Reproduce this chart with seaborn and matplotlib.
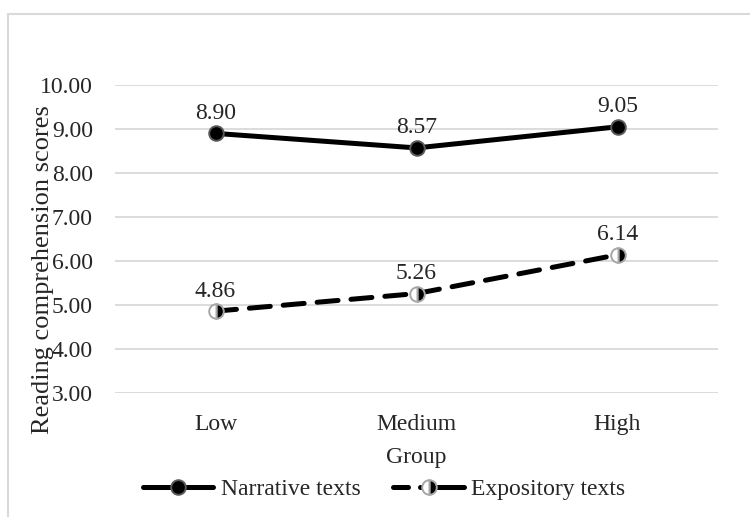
import matplotlib
matplotlib.use("Agg")
import matplotlib.pyplot as plt
import seaborn as sns
import pandas as pd
from matplotlib.patches import Rectangle
from matplotlib.lines import Line2D

groups = ["Low", "Medium", "High"]
narrative = [8.90, 8.57, 9.05]
expository = [4.86, 5.26, 6.14]
yticks = [3, 4, 5, 6, 7, 8, 9, 10]

sns.set_theme(style="white")
plt.rcParams['font.family'] = ['Liberation Serif', 'DejaVu Serif']
FS = 17

fig = plt.figure(figsize=(7.5, 5.17), dpi=100)
W, H = 750, 517
ax = fig.add_axes([115 / W, 1 - 393 / H, (718 - 115) / W, (393 - 85) / H])

df = pd.DataFrame({
    "Group": groups * 2,
    "Score": narrative + expository,
    "Series": ["Narrative texts"] * 3 + ["Expository texts"] * 3,
})

LW = 3.6
MS = 10.5
DASH = [4.2, 2.6]
sns.lineplot(data=df[df.Series == "Narrative texts"], x="Group", y="Score", ax=ax,
             color="black", linewidth=LW, marker="o", markersize=MS,
             markerfacecolor="black", markeredgecolor="#595959", markeredgewidth=1.4,
             sort=False, legend=False, zorder=3)
sns.lineplot(data=df[df.Series == "Expository texts"], x="Group", y="Score", ax=ax,
             color="black", linewidth=LW, marker="o", markersize=MS,
             fillstyle="right", markerfacecolor="black", markerfacecoloralt="white",
             markeredgecolor="#a6a6a6", markeredgewidth=1.4,
             sort=False, legend=False, zorder=3)
ax.lines[1].set_dashes(DASH)
ax.lines[1].set_dash_capstyle("round")

ax.set_xlim(-0.5, 2.5)
ax.set_ylim(3, 10)
ax.set_yticks(yticks)
ax.set_yticklabels([f"{v:.2f}" for v in yticks], fontsize=FS)
ax.set_xticks(range(len(groups)))
ax.set_xticklabels(groups, fontsize=FS)
ax.tick_params(axis="both", length=0)
ax.tick_params(axis="y", pad=16)
ax.tick_params(axis="x", pad=15)
ax.grid(axis="y", color="#d9d9d9", linewidth=1.3)
for s in ax.spines.values():
    s.set_visible(False)
ax.set_xlabel("")
ax.set_ylabel("")

for i, v in enumerate(narrative):
    ax.annotate(f"{v:.2f}", (i, v), xytext=(0, 14.5), textcoords="offset points",
                ha="center", va="center", fontsize=FS)
for i, v in enumerate(expository):
    ax.annotate(f"{v:.2f}", (i, v), xytext=(0, 14.5), textcoords="offset points",
                ha="center", va="center", fontsize=FS)

fig.text(416 / W, 1 - 457 / H, "Group", ha="center", va="center", fontsize=FS)
fig.text(43 / W, 1 - 270 / H, "Reading comprehension scores", ha="center", va="center",
         rotation=90, fontsize=19)

h1 = Line2D([], [], color="black", linewidth=LW, marker="o", markersize=MS,
            markerfacecolor="black", markeredgecolor="#595959", markeredgewidth=1.4)
h2 = Line2D([], [], color="black", linewidth=LW, marker="o", markersize=MS,
            fillstyle="right", markerfacecolor="black", markerfacecoloralt="white",
            markeredgecolor="#a6a6a6", markeredgewidth=1.4, dashes=[3.0, 2.4, 9, 1],
            dash_capstyle="round")
fig.legend([h1, h2], ["Narrative texts", "Expository texts"], loc="center",
           bbox_to_anchor=(384 / W, 1 - 489 / H), ncol=2, frameon=False,
           fontsize=FS, handlelength=3.0, handletextpad=0.3, columnspacing=1.4)

fig.patches.append(Rectangle((8 / W, -0.1), 1.2, 1 - 14 / H + 0.1, transform=fig.transFigure,
                             fill=False, edgecolor="#d9d9d9", linewidth=1.5, zorder=0))

fig.savefig("out.png", dpi=100)
